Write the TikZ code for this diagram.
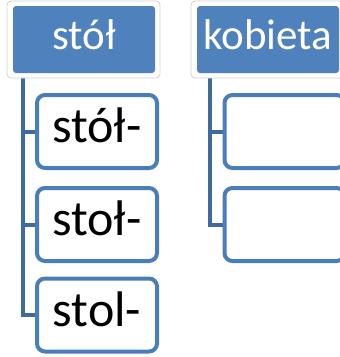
\documentclass[tikz,border=0pt]{standalone}
\usepackage{fontspec}
\setmainfont{Carlito}
\usetikzlibrary{backgrounds}
\definecolor{hdrblue}{HTML}{4F81BD}
\definecolor{boxblue}{HTML}{4A7EBB}
\definecolor{linkblue}{HTML}{3E6B9E}
\definecolor{framegray}{HTML}{D2D2D2}
\begin{document}
\begin{tikzpicture}[x=1pt,y=-1pt,
  frame/.style={draw=framegray, line width=0.8pt, fill=white, rounded corners=4pt,
    minimum width=153pt, minimum height=77pt, inner sep=0pt},
  header/.style={fill=hdrblue, rounded corners=3pt, minimum width=142pt,
    minimum height=67pt, inner sep=0pt, text=white,
    font=\fontsize{43}{43}\selectfont, text height=28pt, text depth=8pt},
  child/.style={draw=boxblue, line width=4pt, fill=white, rounded corners=8pt,
    minimum width=120pt, minimum height=73pt, inner sep=0pt,
    font=\fontsize{50}{50}\selectfont, text height=31pt, text depth=9pt},
  link/.style={draw=linkblue, line width=4pt}]
\useasboundingbox (0,0) rectangle (340,357);
\clip (0,0) rectangle (340,357);

% first column: stół
\node[frame] (f1) at (83.5,39.5) {};
\node[header] (h1) at (84,39.5) {stół};
\node[child] (a1) at (97,131.5) {stół-};
\node[child] (a2) at (97,224.5) {stoł-};
\node[child] (a3) at (97,315) {stol-};

% second column: kobieta
\node[frame] (f2) at (267.5,39.5) {};
\node[header] (h2) at (268,39.5) {kobieta};
\node[child] (b1) at (284.5,131.5) {};
\node[child] (b2) at (284.5,224.5) {};

% tree connectors behind the boxes
\begin{pgfonlayer}{background}
  \draw[link] ([xshift=-61pt]h1.south) |- (a3.west);
  \draw[link] ([xshift=-61pt]h1.south) |- (a1.west);
  \draw[link] ([xshift=-61pt]h1.south) |- (a2.west);
  \draw[link] ([xshift=-58pt]h2.south) |- (b2.west);
  \draw[link] ([xshift=-58pt]h2.south) |- (b1.west);
\end{pgfonlayer}
\end{tikzpicture}
\end{document}
